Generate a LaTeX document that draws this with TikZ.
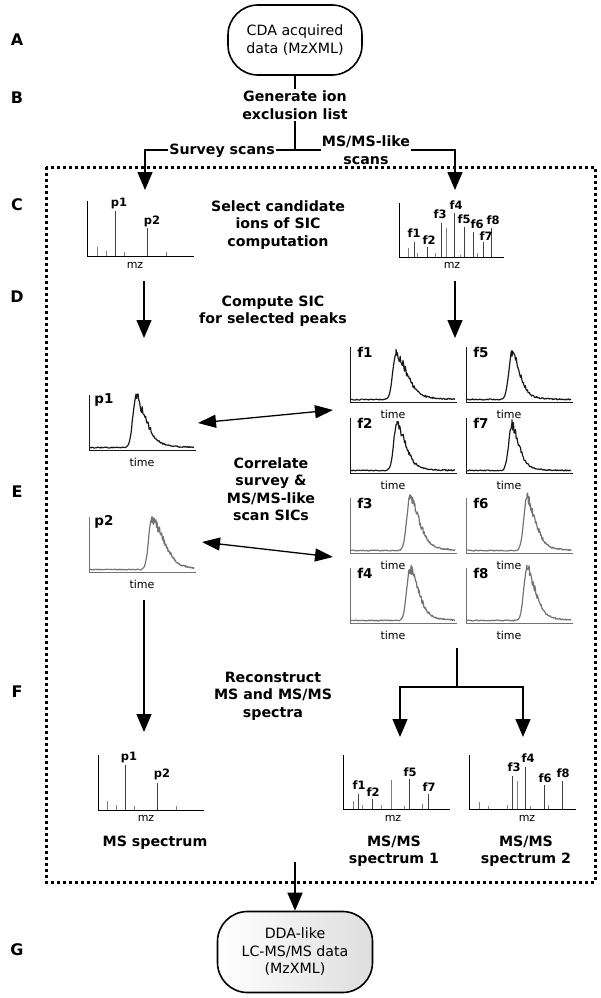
\documentclass[tikz,border=0pt]{standalone}
\usepackage{fontspec}
\setmainfont{DejaVu Sans}
\usetikzlibrary{arrows.meta}

\colorlet{tracedark}{black!90}
\colorlet{tracegray}{black!55}

% #1 name, #2 axis x, #3 baseline y, #4 peak offset, #5 peak height, #6 decay width, #7 colour, #8 label, #9 time offset
\newcommand{\sicplot}[9]{%
  \pgfmathsetseed{\number\numexpr#2+#3\relax}%
  \draw[axisline,#7] (#2,#3-55) -- (#2,#3) -- (#2+107,#3);
  \draw[sicline,#7] plot[domain=#2+1:#2+#4,samples=50] (\x,{#3-2.5-(#5)*(1+0.05*rand)*exp(max(-9,0-((\x-#2-#4)/4.5)*((\x-#2-#4)/4.5)))+0.5*rand})
    -- plot[domain=#2+#4:#2+105,samples=85] (\x,{#3-2.5-(#5)*(1+0.12*rand)*(0.6*exp(max(-9,0-((\x-#2-#4)/#6)*((\x-#2-#4)/#6)))+0.4*exp(max(-9,(#2+#4-\x)/#6)))+0.6*rand});
  \node[siclbl] (#1) at (#2+15,#3-50) {#8};
  \node[axislbl] (#1t) at (#2+#9,#3+12) {time};
}

\begin{document}
\begin{tikzpicture}[x=1pt,y=-1pt,
  stagelbl/.style={font=\fontsize{16}{19}\selectfont\bfseries},
  desc/.style={font=\fontsize{14.2}{17.5}\selectfont\bfseries,align=center,inner sep=2pt},
  terminal/.style={draw,line width=1.6pt,rounded corners=30pt,align=center,font=\fontsize{14.2}{17.5}\selectfont},
  axislbl/.style={font=\fontsize{11}{13}\selectfont,inner sep=1pt},
  peaklbl/.style={font=\fontsize{11.5}{13}\selectfont\bfseries,inner sep=0pt},
  siclbl/.style={font=\fontsize{13.5}{15}\selectfont\bfseries,inner sep=0pt},
  flow/.style={line width=1.5pt,-{Triangle[length=18pt,width=15pt]}},
  link/.style={line width=1.5pt},
  corrarrow/.style={line width=1.3pt,{Triangle[length=18pt,width=13pt]}-{Triangle[length=18pt,width=13pt]}},
  axisline/.style={line width=0.8pt},
  sicline/.style={line width=1.2pt,line join=round},
  peakline/.style={line width=0.8pt,black!50},
  mainpeak/.style={line width=0.9pt,black!75},
  dotbox/.style={line width=3pt,dash pattern=on 3pt off 3pt}]
\useasboundingbox (0,0) rectangle (600,998);

\foreach \lt/\ly in {A/40,B/98,C/205,D/297,E/492,F/692,G/950}
  \node[stagelbl] (stage\lt) at (17,\ly) {\lt};

\draw[dotbox] (46,167) rectangle (595,882);

% A - B
\node[terminal,fill=white,minimum width=134pt,minimum height=70pt] (cda) at (295,40) {CDA acquired\\data (MzXML)};
\node[desc] (gen) at (295,105) {Generate ion\\exclusion list};
\coordinate (split) at (295,150);
\coordinate (surveyin) at (145,190);
\coordinate (msmsin) at (455,190);
\draw[link] (cda) -- (gen);
\draw[link] (gen) -- (split);
\draw[flow] (split) -| (surveyin);
\draw[flow] (split) -| (msmsin);
\node[desc,fill=white,inner sep=1pt] (survey) at (222,151) {Survey scans};
\node[desc,fill=white,inner sep=1pt] (msmslike) at (366,150) {MS/MS-like\\scans};

% C
\draw[axisline] (87,201) -- (87,256) -- (194,256);
\foreach \px/\pt in {97/247,106/251,124/252,166/252}
  \draw[peakline] (\px,256) -- (\px,\pt);
\foreach \px/\pt in {115/211,147/228}
  \draw[mainpeak] (\px,256) -- (\px,\pt);
\node[peaklbl] (cp1) at (119,204) {p1};
\node[peaklbl] (cp2) at (152,221) {p2};
\node[axislbl] (cmz1) at (135,265) {mz};

\node[desc] (select) at (278,225) {Select candidate\\ions of SIC\\computation};

\draw[axisline] (399,203) -- (399,257) -- (504,257);
\foreach \px/\pt in {408/248,417/253,435/253,446/228,460/255,477/253}
  \draw[peakline] (\px,257) -- (\px,\pt);
\foreach \px/\pt in {414/242,427/247,441/223,454/213,464/227,473/232,483/242,491/228}
  \draw[mainpeak] (\px,257) -- (\px,\pt);
\foreach \lx/\ly/\lt in {414/233/f1,429/240/f2,440/214/f3,456/205/f4,464/219/f5,477/224/f6,486/236/f7,493/220/f8}
  \node[peaklbl] (c\lt) at (\lx,\ly) {\lt};
\node[axislbl] (cmz2) at (452,265) {mz};

% D
\coordinate (surveyout) at (144,281);
\coordinate (p1in) at (144,338);
\coordinate (msmsout) at (455,281);
\coordinate (f1in) at (455,338);
\draw[flow] (surveyout) -- (p1in);
\draw[flow] (msmsout) -- (f1in);
\node[desc] (sic) at (273,311) {Compute SIC\\for selected peaks};

% E
\sicplot{p1}{89}{450}{47}{51}{14}{tracedark}{p1}{53}
\sicplot{p2}{89}{572}{63}{53}{16}{tracegray}{p2}{53}
\sicplot{f1}{350}{402}{46}{48}{15}{tracedark}{f1}{43}
\sicplot{f5}{466}{402}{46}{48}{11}{tracedark}{f5}{43}
\sicplot{f2}{350}{473}{47}{48}{12}{tracedark}{f2}{43}
\sicplot{f7}{466}{473}{46}{46}{10}{tracedark}{f7}{43}
\sicplot{f3}{350}{553}{60}{54}{13}{tracegray}{f3}{43}
\sicplot{f6}{466}{553}{61}{53}{12}{tracegray}{f6}{43}
\sicplot{f4}{350}{623}{60}{53}{12}{tracegray}{f4}{43}
\sicplot{f8}{466}{623}{61}{53}{12}{tracegray}{f8}{43}

\coordinate (corrp1) at (198,423);
\coordinate (corrf) at (333,410);
\coordinate (corrp2) at (202,542);
\coordinate (corrfg) at (333,557);
\draw[corrarrow] (corrp1) -- (corrf);
\draw[corrarrow] (corrp2) -- (corrfg);
\node[desc] (corr) at (271,489) {Correlate\\survey \&\\MS/MS-like\\scan SICs};

% F
\coordinate (p2out) at (144,600);
\coordinate (msin) at (144,732);
\coordinate (fout) at (457,648);
\coordinate (fsplit) at (457,687);
\coordinate (ms1in) at (400,737);
\coordinate (ms2in) at (523,737);
\draw[flow] (p2out) -- (msin);
\draw[link] (fout) -- (fsplit);
\draw[flow] (fsplit) -| (ms1in);
\draw[flow] (fsplit) -| (ms2in);
\node[desc] (recon) at (273,696) {Reconstruct\\MS and MS/MS\\spectra};

\draw[axisline] (98,755) -- (98,810) -- (204,810);
\foreach \px/\pt in {107/801,116/805,134/806,176/806}
  \draw[peakline] (\px,810) -- (\px,\pt);
\foreach \px/\pt in {125/765,157/783}
  \draw[mainpeak] (\px,810) -- (\px,\pt);
\node[peaklbl] (mp1) at (129,757) {p1};
\node[peaklbl] (mp2) at (162,774) {p2};
\node[axislbl] (mmz) at (146,818) {mz};

\draw[axisline] (343,755) -- (343,809) -- (450,809);
\foreach \px/\pt in {353/801,362/805,381/805,391/780,404/806,422/804}
  \draw[peakline] (\px,809) -- (\px,\pt);
\foreach \px/\pt in {358/794,372/799,409/779,428/794}
  \draw[mainpeak] (\px,809) -- (\px,\pt);
\foreach \lx/\ly/\lt in {359/785/f1,373/792/f2,410/772/f5,429/787/f7}
  \node[peaklbl] (a\lt) at (\lx,\ly) {\lt};
\node[axislbl] (amz) at (393,818) {mz};

\draw[axisline] (469,755) -- (469,809) -- (576,809);
\foreach \px/\pt in {479/802,488/806,507/805,517/781,530/806,548/805}
  \draw[peakline] (\px,809) -- (\px,\pt);
\foreach \px/\pt in {512/776,525/767,544/785,562/781}
  \draw[mainpeak] (\px,809) -- (\px,\pt);
\foreach \lx/\ly/\lt in {514/767/f3,528/758/f4,545/778/f6,563/773/f8}
  \node[peaklbl] (b\lt) at (\lx,\ly) {\lt};
\node[axislbl] (bmz) at (527,818) {mz};

\node[desc] (msspec) at (155,843) {MS spectrum};
\node[desc] (ms1spec) at (394,851) {MS/MS\\spectrum 1};
\node[desc] (ms2spec) at (526,851) {MS/MS\\spectrum 2};

% G
\coordinate (boxout) at (295,862);
\node[terminal,left color=white,right color=black!13,minimum width=155pt,minimum height=81pt] (dda) at (295,952) {DDA-like\\LC-MS/MS data\\(MzXML)};
\draw[flow] (boxout) -- (dda);
\end{tikzpicture}
\end{document}
